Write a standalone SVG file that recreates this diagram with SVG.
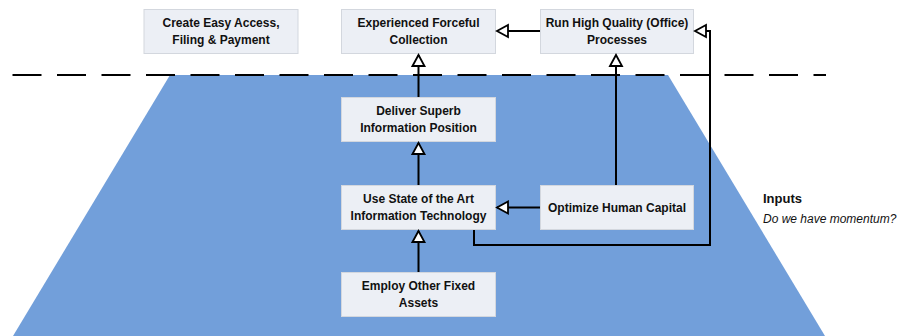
<svg xmlns="http://www.w3.org/2000/svg" width="907" height="336" viewBox="0 0 907 336">
<defs>
<style>
.box{fill:#ECEFF5;stroke:#D3D7DE;stroke-width:1}
.t{font-family:"Liberation Sans",Arial,sans-serif;font-weight:bold;font-size:12px;fill:#111;text-anchor:middle}
.c{fill:none;stroke:#000;stroke-width:2;marker-end:url(#open)}
</style>
<marker id="open" markerUnits="userSpaceOnUse" markerWidth="16" markerHeight="16" refX="11" refY="6" orient="auto" viewBox="-2 -2 16 16">
<path d="M0,0 L11,6 L0,12 Z" fill="#fff" stroke="#000" stroke-width="1.8" stroke-linejoin="miter"/>
</marker>
</defs>
<rect width="907" height="336" fill="#fff"/>
<polygon points="170,75 668,75 825,336 13,336" fill="#729FDA"/>
<line x1="12.5" y1="75" x2="826" y2="75" stroke="#000" stroke-width="2" stroke-dasharray="29 15.5"/>

<g id="n-create">
<rect class="box" x="144" y="9.5" width="154" height="44"/>
<text class="t" x="221" y="27">Create Easy Access,</text>
<text class="t" x="221" y="44">Filing &amp; Payment</text>
</g>
<g id="n-collection">
<rect class="box" x="341.5" y="9.5" width="154" height="44"/>
<text class="t" x="418.5" y="27">Experienced Forceful</text>
<text class="t" x="418.5" y="44">Collection</text>
</g>
<g id="n-processes">
<rect class="box" x="540.5" y="9.5" width="153" height="44"/>
<text class="t" x="617" y="27">Run High Quality (Office)</text>
<text class="t" x="617" y="44">Processes</text>
</g>
<g id="n-deliver">
<rect class="box" x="341.5" y="97.5" width="154" height="44"/>
<text class="t" x="418.5" y="115">Deliver Superb</text>
<text class="t" x="418.5" y="132">Information Position</text>
</g>
<g id="n-usestate">
<rect class="box" x="341.5" y="185.5" width="154" height="44"/>
<text class="t" x="418.5" y="203">Use State of the Art</text>
<text class="t" x="418.5" y="220">Information Technology</text>
</g>
<g id="n-optimize">
<rect class="box" x="540.5" y="185.5" width="153" height="44"/>
<text class="t" x="617" y="211.5">Optimize Human Capital</text>
</g>
<g id="n-employ">
<rect class="box" x="341.5" y="272.5" width="154" height="44"/>
<text class="t" x="418.5" y="290">Employ Other Fixed</text>
<text class="t" x="418.5" y="307">Assets</text>
</g>

<g id="connectors">
<path class="c" d="M540,31 L497,31"/>
<path class="c" d="M418.5,97 L418.5,55"/>
<path class="c" d="M418.5,185 L418.5,143"/>
<path class="c" d="M418.5,272 L418.5,231"/>
<path class="c" d="M540,207.5 L497,207.5"/>
<path class="c" d="M616,185 L616,55"/>
<path class="c" d="M474,230 L474,245 L710,245 L710,31 L695,31"/>
</g>

<g id="legend">
<text x="763" y="202.5" font-family="'Liberation Sans',Arial,sans-serif" font-weight="bold" font-size="13" fill="#111">Inputs</text>
<text x="763" y="222.5" font-family="'Liberation Sans',Arial,sans-serif" font-style="italic" font-size="12" fill="#111">Do we have momentum?</text>
</g>
</svg>
